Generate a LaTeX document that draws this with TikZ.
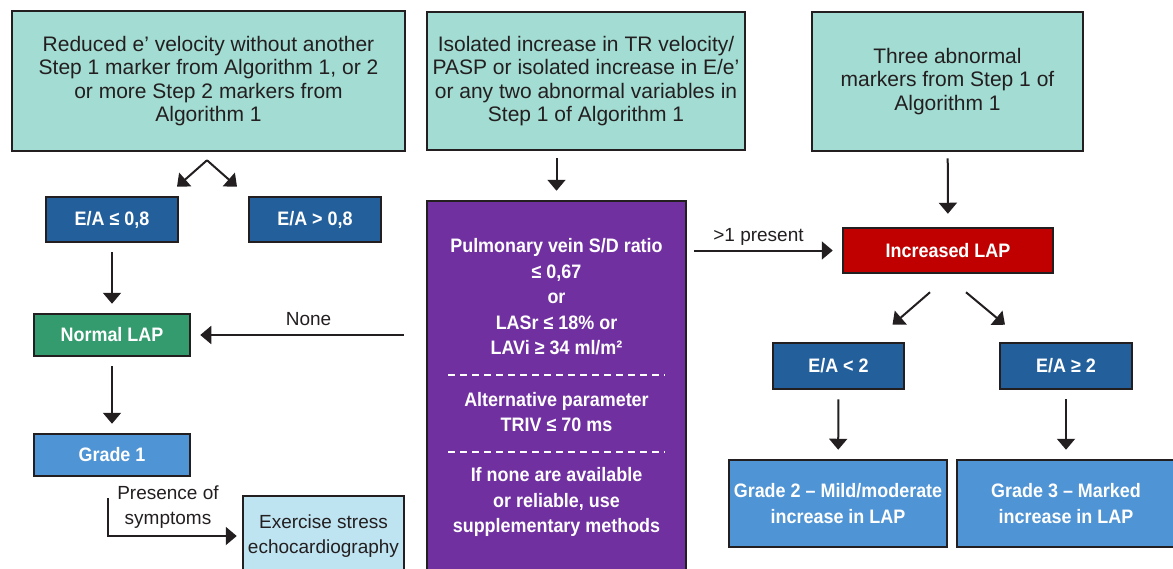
\documentclass[tikz,border=0pt]{standalone}
\usepackage{fontspec}
\setmainfont{Liberation Sans}[BoldFeatures={FakeStretch=0.92}]
\usepackage{tikz}
\usetikzlibrary{arrows.meta}
\usetikzlibrary{positioning}
\definecolor{ink}{HTML}{231F20}
\definecolor{mint}{HTML}{A2DCD2}
\definecolor{navy}{HTML}{225F9B}
\definecolor{leaf}{HTML}{339B6E}
\definecolor{sky}{HTML}{4F94D4}
\definecolor{pale}{HTML}{BEE3F1}
\definecolor{alarm}{HTML}{C00000}
\definecolor{plum}{HTML}{7030A0}

\begin{document}
\begin{tikzpicture}[x=1pt, y=-1pt,
                bx/.style n args={3}{draw=ink, fill=#1,
                    minimum width=#2, minimum height=#3,
                    line width=2.5pt, inner sep=0pt,
                    rectangle, align=center},
                txt/.style={text=ink, font=\fontsize{21}{23.5}\selectfont},
                lbl/.style={text=white, font=\bfseries\fontsize{19.5}{25.5}\selectfont},
                small/.style={text=ink, font=\fontsize{19}{25}\selectfont, align=center},
                arr/.style={draw=ink, line width=2pt,
                    -{Triangle[width=18pt,length=11pt]},
                    shorten <=9pt, shorten >=9pt}]
    \useasboundingbox (0,0) rectangle (1173,568);
    % top row
    \node[bx={mint}{393pt}{140pt}, txt](topL) at (208.5, 81) {Reduced e’ velocity without another\\Step 1 marker from Algorithm 1, or 2\\or more Step 2 markers from\\Algorithm 1};
    \node[bx={mint}{318pt}{138pt}, txt](topM) at (586, 81) {Isolated increase in TR velocity/\\PASP or isolated increase in E/e’\\or any two abnormal variables in\\Step 1 of Algorithm 1};
    \node[bx={mint}{271pt}{139pt}, txt](topR) at (947.5, 81.5) {Three abnormal\\markers from Step 1 of\\Algorithm 1};
    % left column
    \node[bx={navy}{132pt}{45pt}, lbl](eaLo) at (112, 219.5) {E/A ≤ 0,8};
    \node[bx={navy}{132pt}{45pt}, lbl](eaHi) at (315, 219.5) {E/A > 0,8};
    \node[bx={leaf}{156pt}{42pt}, lbl](normal) at (112, 335) {Normal LAP};
    \node[bx={sky}{156pt}{42pt}, lbl](grade1) at (112, 455) {Grade 1};
    \node[bx={pale}{161pt}{80pt}, txt, font=\fontsize{19}{25}\selectfont](exer) at (323.5, 536) {Exercise stress\\echocardiography};
    % middle column
    \node[bx={plum}{259pt}{380pt}](purple) at (556.5, 391) {};
    \node[lbl, align=center](pv1) at (556.5, 297) {Pulmonary vein S/D ratio\\≤ 0,67\\or\\LASr ≤ 18\% or\\LAVi ≥ 34 ml/m²};
    \node[lbl, align=center](pv2) at (556.5, 412) {Alternative parameter\\TRIV ≤ 70 ms};
    \node[lbl, align=center](pv3) at (556.5, 502) {If none are available\\or reliable, use\\supplementary methods};
    \coordinate (d1a) at (448, 375);
    \coordinate (d1b) at (665, 375);
    \coordinate (d2a) at (448, 452);
    \coordinate (d2b) at (665, 452);
    \draw[white, line width=2.5pt, dash pattern=on 7pt off 5pt] (d1a) -- (d1b);
    \draw[white, line width=2.5pt, dash pattern=on 7pt off 5pt] (d2a) -- (d2b);
    % right column
    \node[bx={alarm}{210pt}{45pt}, lbl](incr) at (948, 250.5) {Increased LAP};
    \node[bx={navy}{131pt}{46pt}, lbl](ea2lo) at (838.5, 366) {E/A < 2};
    \node[bx={navy}{132pt}{46pt}, lbl](ea2hi) at (1066, 366) {E/A ≥ 2};
    \node[bx={sky}{218pt}{87pt}, lbl](grade2) at (838, 503.5) {Grade 2 – Mild/moderate\\increase in LAP};
    \node[bx={sky}{218pt}{87pt}, lbl](grade3) at (1066, 503.5) {Grade 3 – Marked\\increase in LAP};
    % connectors
    \draw[arr, shorten <=0pt, shorten >=0pt] ([xshift=-1.5pt,yshift=-8pt]topL.south) -- ([xshift=65pt,yshift=9pt]eaLo.north);
    \draw[arr, shorten <=0pt, shorten >=0pt] ([xshift=-1.5pt,yshift=-8pt]topL.south) -- ([xshift=-78pt,yshift=9pt]eaHi.north);
    \draw[arr] (eaLo) -- (normal);
    \draw[arr] (normal) -- (grade1);
    \draw[arr, shorten <=22pt] (normal -| purple.west) -- node[above=5pt, small]{None} (normal.east);
    \draw[arr, shorten <=21pt, shorten >=5pt] ([xshift=-4pt]grade1.south) |- (exer.west);
    \node[small](symp) at (168, 507) {Presence of\\symptoms};
    \draw[arr, shorten <=7pt] (topM.south -| purple.north) -- (purple.north);
    \draw[arr, shorten <=7pt] (incr -| purple.east) -- node[above=1pt, small, xshift=-6pt]{>1 present} (incr.west);
    \draw[arr, shorten <=6pt, shorten >=13pt] (topR) -- (incr);
    \draw[arr, shorten <=0pt, shorten >=0pt] ([xshift=-18pt,yshift=-18pt]incr.south) -- ([xshift=54pt,yshift=17pt]ea2lo.north);
    \draw[arr, shorten <=0pt, shorten >=0pt] ([xshift=18pt,yshift=-18pt]incr.south) -- ([xshift=-61pt,yshift=17pt]ea2hi.north);
    \draw[arr] (ea2lo) -- (grade2);
    \draw[arr] (ea2hi) -- (grade3);
\end{tikzpicture}
\end{document}
